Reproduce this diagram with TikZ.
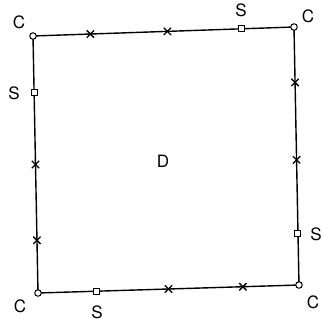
\documentclass[tikz,border=0pt]{standalone}
\usepackage{fontspec}
\setmainfont{TeX Gyre Heros}
\usetikzlibrary{shapes.misc,calc}
\begin{document}
\begin{tikzpicture}[x=1pt,y=-1pt,
  edge/.style={line width=1.4pt, black},
  corner/.style={circle, draw, line width=1pt, fill=white, minimum size=6.5pt, inner sep=0pt},
  sq/.style={rectangle, draw, line width=1pt, fill=white, minimum size=6pt, inner sep=0pt},
  xm/.style={cross out, draw, line width=1.3pt, minimum size=6pt, inner sep=0pt},
  lbl/.style={font=\fontsize{17}{17}\selectfont, inner sep=0pt}]
\useasboundingbox (0,0) rectangle (323,325);
% corners
\coordinate (tl) at (33,36);
\coordinate (tr) at (294,27);
\coordinate (br) at (299,285);
\coordinate (bl) at (38,293);
\draw[edge] (tl) -- (tr) -- (br) -- (bl) -- cycle;
\node[corner] (ctl) at (tl) {};
\node[corner] (ctr) at (tr) {};
\node[corner] (cbr) at (br) {};
\node[corner] (cbl) at (bl) {};
% top edge markers
\node[xm] (t1) at ($(tl)!0.22!(tr)$) {};
\node[xm] (t2) at ($(tl)!0.515!(tr)$) {};
\node[sq] (ts) at ($(tl)!0.80!(tr)$) {};
% right edge
\node[xm] (r1) at ($(tr)!0.215!(br)$) {};
\node[xm] (r2) at ($(tr)!0.515!(br)$) {};
\node[sq] (rs) at ($(tr)!0.80!(br)$) {};
% bottom edge
\node[xm] (b1) at ($(br)!0.215!(bl)$) {};
\node[xm] (b2) at ($(br)!0.50!(bl)$) {};
\node[sq] (bs) at ($(br)!0.775!(bl)$) {};
% left edge
\node[xm] (l1) at ($(bl)!0.205!(tl)$) {};
\node[xm] (l2) at ($(bl)!0.50!(tl)$) {};
\node[sq] (ls) at ($(bl)!0.78!(tl)$) {};
% labels
\node[lbl] (lctl) at (19,22) {C};
\node[lbl] (lctr) at (308,16) {C};
\node[lbl] (lcbr) at (313,302) {C};
\node[lbl] (lcbl) at (20,306) {C};
\node[lbl] (lts) at (241,10) {S};
\node[lbl] (lrs) at (316,234) {S};
\node[lbl] (lbs) at (97,312) {S};
\node[lbl] (lls) at (14,93) {S};
\node[lbl] (d) at (163,161) {D};
\end{tikzpicture}
\end{document}
